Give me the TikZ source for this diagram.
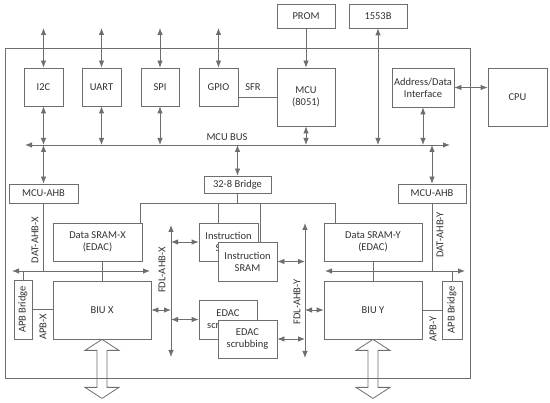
\documentclass[tikz,border=0pt]{standalone}
\usepackage{fontspec}
\setmainfont{Carlito}
\usetikzlibrary{arrows.meta}
\definecolor{linegray}{HTML}{6E6E6E}
\definecolor{textgray}{HTML}{333333}
\begin{document}
\begin{tikzpicture}[x=1pt, y=-1pt,
  every node/.style={font=\fontsize{10.5}{12}\selectfont, text=textgray, inner sep=1pt},
  blk/.style={draw=linegray, line width=0.8pt, fill=white, align=center},
  lbl/.style={rotate=90},
  >={Latex[length=7pt,width=5.5pt]},
  dbl/.style={<->},
  sgl/.style={->},
  line width=0.8pt, draw=linegray]
\useasboundingbox (0,0) rectangle (550,403);
% chip outline
\draw (5,48) rectangle (470,378);
% external blocks
\node[blk, minimum width=58pt, minimum height=24pt] (prom) at (306,16) {PROM};
\node[blk, minimum width=58pt, minimum height=24pt] (milbus) at (378,16) {1553B};
\node[blk, minimum width=59pt, minimum height=58pt] (cpu) at (517.5,97) {CPU};
% peripherals
\node[blk, minimum width=39pt, minimum height=38pt] (i2c) at (43.5,87) {I2C};
\node[blk, minimum width=39pt, minimum height=38pt] (uart) at (101.5,87) {UART};
\node[blk, minimum width=38pt, minimum height=38pt] (spi) at (160,87) {SPI};
\node[blk, minimum width=39pt, minimum height=38pt] (gpio) at (218.5,87) {GPIO};
\node[blk, minimum width=58pt, minimum height=58pt] (mcu) at (306,97) {MCU\\(8051)};
\node[blk, minimum width=62pt, minimum height=39pt] (adi) at (423,87.5) {Address/Data\\Interface};
% pins on top
\coordinate (i2cpin) at (43.5,28);
\coordinate (uartpin) at (101.5,28);
\coordinate (spipin) at (160,28);
\coordinate (gpiopin) at (218.5,28);
\draw[dbl] (i2cpin) -- (i2c);
\draw[dbl] (uartpin) -- (uart);
\draw[dbl] (spipin) -- (spi);
\draw[dbl] (gpiopin) -- (gpio);
\draw[sgl] (prom) -- (mcu);
\draw (gpio.east |- mcu.west) -- (mcu.west);
\node (sfr) at (253,87) {SFR};
\draw[dbl] (adi.east) -- (adi.east -| cpu.west);
% MCU bus
\coordinate (busL) at (25,145);
\coordinate (busR) at (450,145);
\draw[dbl] (busL) -- (busR);
\node (busname) at (227,137) {MCU BUS};
\draw[dbl] (i2c) -- (i2c |- busL);
\draw[dbl] (uart) -- (uart |- busL);
\draw[dbl] (spi) -- (spi |- busL);
\draw[dbl] (mcu) -- (mcu |- busL);
\draw[dbl] (milbus) -- (milbus |- busL);
\draw[dbl] (adi) -- (adi |- busL);
% AHB masters and bridge
\node[blk, minimum width=69pt, minimum height=19pt] (ahbL) at (43.5,193.5) {MCU-AHB};
\node[blk, minimum width=68pt, minimum height=19pt] (ahbR) at (432,193.5) {MCU-AHB};
\node[blk, minimum width=67pt, minimum height=17pt] (bridge) at (237.5,184.5) {32-8 Bridge};
\draw[dbl] (ahbL |- busL) -- (ahbL);
\draw[dbl] (ahbR |- busL) -- (ahbR);
\draw[dbl] (bridge |- busL) -- (bridge);
% memories
\node[blk, minimum width=89pt, minimum height=38pt] (sramX) at (97.5,242) {Data SRAM-X\\(EDAC)};
\node[blk, minimum width=98pt, minimum height=38pt] (sramY) at (373,242) {Data SRAM-Y\\(EDAC)};
\node[blk, minimum width=59pt, minimum height=38pt] (isramA) at (228.5,242) {Instruction\\SRAM};
\node[blk, minimum width=59pt, minimum height=39pt] (isramB) at (247.5,261.5) {Instruction\\SRAM};
\node[blk, minimum width=58pt, minimum height=39pt] (edacA) at (228,319.5) {EDAC\\scrubbing};
\node[blk, minimum width=59pt, minimum height=38pt] (edacB) at (247.5,339) {EDAC\\scrubbing};
% bridge tree
\coordinate (t1) at (140,203);
\coordinate (t2) at (218,203);
\coordinate (t3) at (260,203);
\coordinate (t4) at (335,203);
\draw (bridge) -- (bridge |- t1);
\draw (t1) -- (t4);
\draw (t1) -- (t1 |- sramX.north);
\draw (t2) -- (t2 |- isramA.north);
\draw (t3) -- (t3 |- isramB.north);
\draw (t4) -- (t4 |- sramY.north);
% BIUs
\node[blk, minimum width=98pt, minimum height=58pt] (biuX) at (102,310) {BIU X};
\node[blk, minimum width=98pt, minimum height=58pt] (biuY) at (373,310) {BIU Y};
\node[blk, lbl, minimum width=59pt, minimum height=18pt] (apbX) at (23,309.5) {APB Bridge};
\node[blk, lbl, minimum width=58pt, minimum height=20pt] (apbY) at (452,310) {APB Bridge};
% FDL AHB buses
\coordinate (fxT) at (171,225);
\coordinate (fxB) at (171,357);
\coordinate (fyT) at (305,223);
\coordinate (fyB) at (305,358);
\draw[dbl] (fxT) -- (fxB);
\draw[dbl] (fyT) -- (fyB);
\node[lbl] (fdlX) at (162,270) {FDL-AHB-X};
\node[lbl] (fdlY) at (297,302) {FDL-AHB-Y};
\draw[dbl] (isramA.west -| fxT) -- (isramA.west);
\draw[dbl] (edacA.west -| fxT) -- (edacA.west);
\draw[dbl] (isramB.east) -- (isramB.east -| fyT);
\draw[dbl] (edacB.east) -- (edacB.east -| fyT);
\draw[dbl] (biuX.east) -- (biuX.east -| fxT);
\draw[dbl] (biuY.west) -- (biuY.west -| fyT);
% data AHB buses
\coordinate (dxL) at (12,271);
\coordinate (dxR) at (150,271);
\coordinate (dyL) at (325,271);
\coordinate (dyR) at (465,271);
\draw[dbl] (dxL) -- (dxR);
\draw[dbl] (dyL) -- (dyR);
\draw (ahbL) -- (ahbL |- dxL);
\draw (ahbR) -- (ahbR |- dyL);
\node[lbl] (datX) at (35,240) {DAT-AHB-X};
\node[lbl] (datY) at (440,235) {DAT-AHB-Y};
\draw (sramX.south -| biuX) -- (biuX.north);
\draw (sramY) -- (biuY);
\draw (apbX.east) -- (apbX.east |- dxL);
\draw (apbY.east) -- (apbY.east |- dyL);
\draw (apbX.south) -- (apbX.south -| biuX.west);
\draw (biuY.east) -- (apbY.north);
\node[lbl] (apbXname) at (43,327) {APB-X};
\node[lbl] (apbYname) at (433,329) {APB-Y};
% external data paths
\draw[shift={(biuX.south)}] (0,0) -- (17,11) -- (5,11) -- (5,48) -- (17,48) -- (0,59)
  -- (-17,48) -- (-5,48) -- (-5,11) -- (-17,11) -- cycle;
\draw[shift={(biuY.south)}] (0,0) -- (17,11) -- (5,11) -- (5,48) -- (17,48) -- (0,59)
  -- (-17,48) -- (-5,48) -- (-5,11) -- (-17,11) -- cycle;
\end{tikzpicture}
\end{document}
